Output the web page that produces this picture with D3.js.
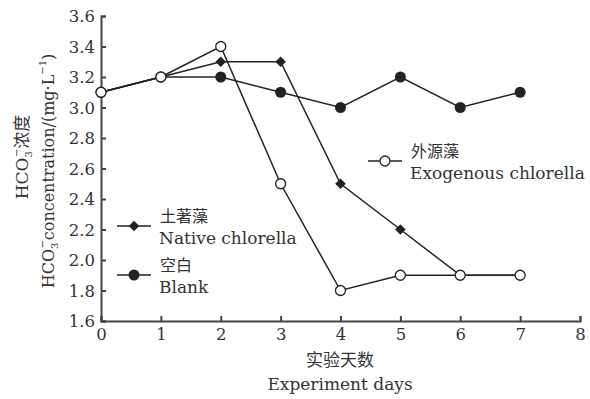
<!DOCTYPE html>
<html>
<head>
<meta charset="utf-8">
<script src="https://cdn.jsdelivr.net/npm/d3@7"></script>
<style>
  html, body { margin: 0; padding: 0; background: #fff; }
  svg text { fill: #333; }
</style>
</head>
<body>
<svg id="chart" width="590" height="399"></svg>
<script>
// Experiment day (x) and HCO3- concentration (mg/L) per treatment
const days = [0, 1, 2, 3, 4, 5, 6, 7];
const exogenous = [3.1, 3.2, 3.4, 2.5, 1.8, 1.9, 1.9, 1.9];
const native = [3.1, 3.2, 3.3, 3.3, 2.5, 2.2, 1.9, 1.9];
const blank = [3.1, 3.2, 3.2, 3.1, 3.0, 3.2, 3.0, 3.1];
const xTicks = [0, 1, 2, 3, 4, 5, 6, 7, 8];
const yTicks = [1.6, 1.8, 2.0, 2.2, 2.4, 2.6, 2.8, 3.0, 3.2, 3.4, 3.6];

const svg = d3.select("#chart");
const ink = "#222";
const serif = "DejaVu Serif";
const cjk = "Noto Sans CJK SC";

const x = d3.scaleLinear().domain([0, 8]).range([101, 580]);
const y = d3.scaleLinear().domain([1.6, 3.6]).range([321, 16]);

// axes with inward ticks
const yAxis = svg.append("g").attr("transform", `translate(${x(0)},0)`)
  .call(d3.axisLeft(y).tickValues(yTicks).tickFormat(d3.format(".1f")).tickSize(-5).tickPadding(6));
const xAxis = svg.append("g").attr("transform", `translate(0,${y(1.6)})`)
  .call(d3.axisBottom(x).tickValues(xTicks).tickFormat(d3.format("d")).tickSize(-5).tickPadding(7));
[yAxis, xAxis].forEach(g => {
  g.attr("font-family", serif);
  g.select(".domain").attr("stroke", "#444").attr("stroke-width", 2);
  g.selectAll(".tick line").attr("stroke", "#444").attr("stroke-width", 2);
  g.selectAll(".tick text").attr("font-size", 16.5).attr("fill", "#333");
});
yAxis.selectAll(".tick text").attr("dy", "0.35em");
xAxis.selectAll(".tick text").attr("dy", "0.71em");

const line = d3.line().x((d, i) => x(days[i])).y(d => y(d));
const diamond = d3.symbol().type(d3.symbolSquare).size(56);

function series(vals, marker) {
  const g = svg.append("g");
  g.append("path").datum(vals).attr("d", line)
    .attr("fill", "none").attr("stroke", ink).attr("stroke-width", 1.5);
  vals.forEach((v, i) => drawMarker(g, x(days[i]), y(v), marker));
}
function drawMarker(g, cx, cy, marker) {
  if (marker === "diamond") {
    g.append("path").attr("d", diamond).attr("transform", `translate(${cx},${cy}) rotate(45)`)
      .attr("fill", ink);
  } else if (marker === "dot") {
    g.append("circle").attr("cx", cx).attr("cy", cy).attr("r", 5.5).attr("fill", ink);
  } else {
    g.append("circle").attr("cx", cx).attr("cy", cy).attr("r", 5)
      .attr("fill", "#fff").attr("stroke", ink).attr("stroke-width", 1.3);
  }
}

series(blank, "dot");
series(native, "diamond");
series(exogenous, "open");

// legend entries
function legend(lx, ly, marker, zh, en) {
  const g = svg.append("g");
  g.append("line").attr("x1", lx).attr("x2", lx + 34).attr("y1", ly).attr("y2", ly)
    .attr("stroke", ink).attr("stroke-width", 1.5);
  drawMarker(g, lx + 17, ly, marker);
  g.append("text").attr("x", lx + 43).attr("y", ly - 4)
    .attr("font-family", cjk).attr("font-size", 16).text(zh);
  g.append("text").attr("x", lx + 42).attr("y", ly + 18)
    .attr("font-family", serif).attr("font-size", 17).text(en);
}
legend(117, 226, "diamond", "土著藻", "Native chlorella");
legend(117, 275, "dot", "空白", "Blank");
legend(368, 161, "open", "外源藻", "Exogenous chlorella");

// axis titles
svg.append("text").attr("x", 340).attr("y", 366)
  .attr("text-anchor", "middle").attr("font-family", cjk).attr("font-size", 17).text("实验天数");
svg.append("text").attr("x", 340).attr("y", 390)
  .attr("text-anchor", "middle").attr("font-family", serif).attr("font-size", 17).text("Experiment days");

function hcoLabel(tx, cy, size) {
  const t = svg.append("text").attr("transform", `translate(${tx},${cy}) rotate(-90)`)
    .attr("text-anchor", "middle").attr("font-family", serif).attr("font-size", size);
  t.append("tspan").text("HCO");
  t.append("tspan").attr("font-size", 10).attr("dy", 4).text("3");
  t.append("tspan").attr("font-size", 10).attr("dx", -6).attr("dy", -12).text("−");
  return t;
}
const t1 = hcoLabel(28, 157, 17);
t1.append("tspan").attr("font-family", cjk).attr("dy", 8).attr("font-size", 17).text("浓度");

const t2 = hcoLabel(54, 171, 16);
t2.append("tspan").attr("dy", 8).text("concentration/(mg·L");
t2.append("tspan").attr("font-size", 10).attr("dy", -8).text("−1");
t2.append("tspan").attr("dy", 8).text(")");
</script>
</body>
</html>
